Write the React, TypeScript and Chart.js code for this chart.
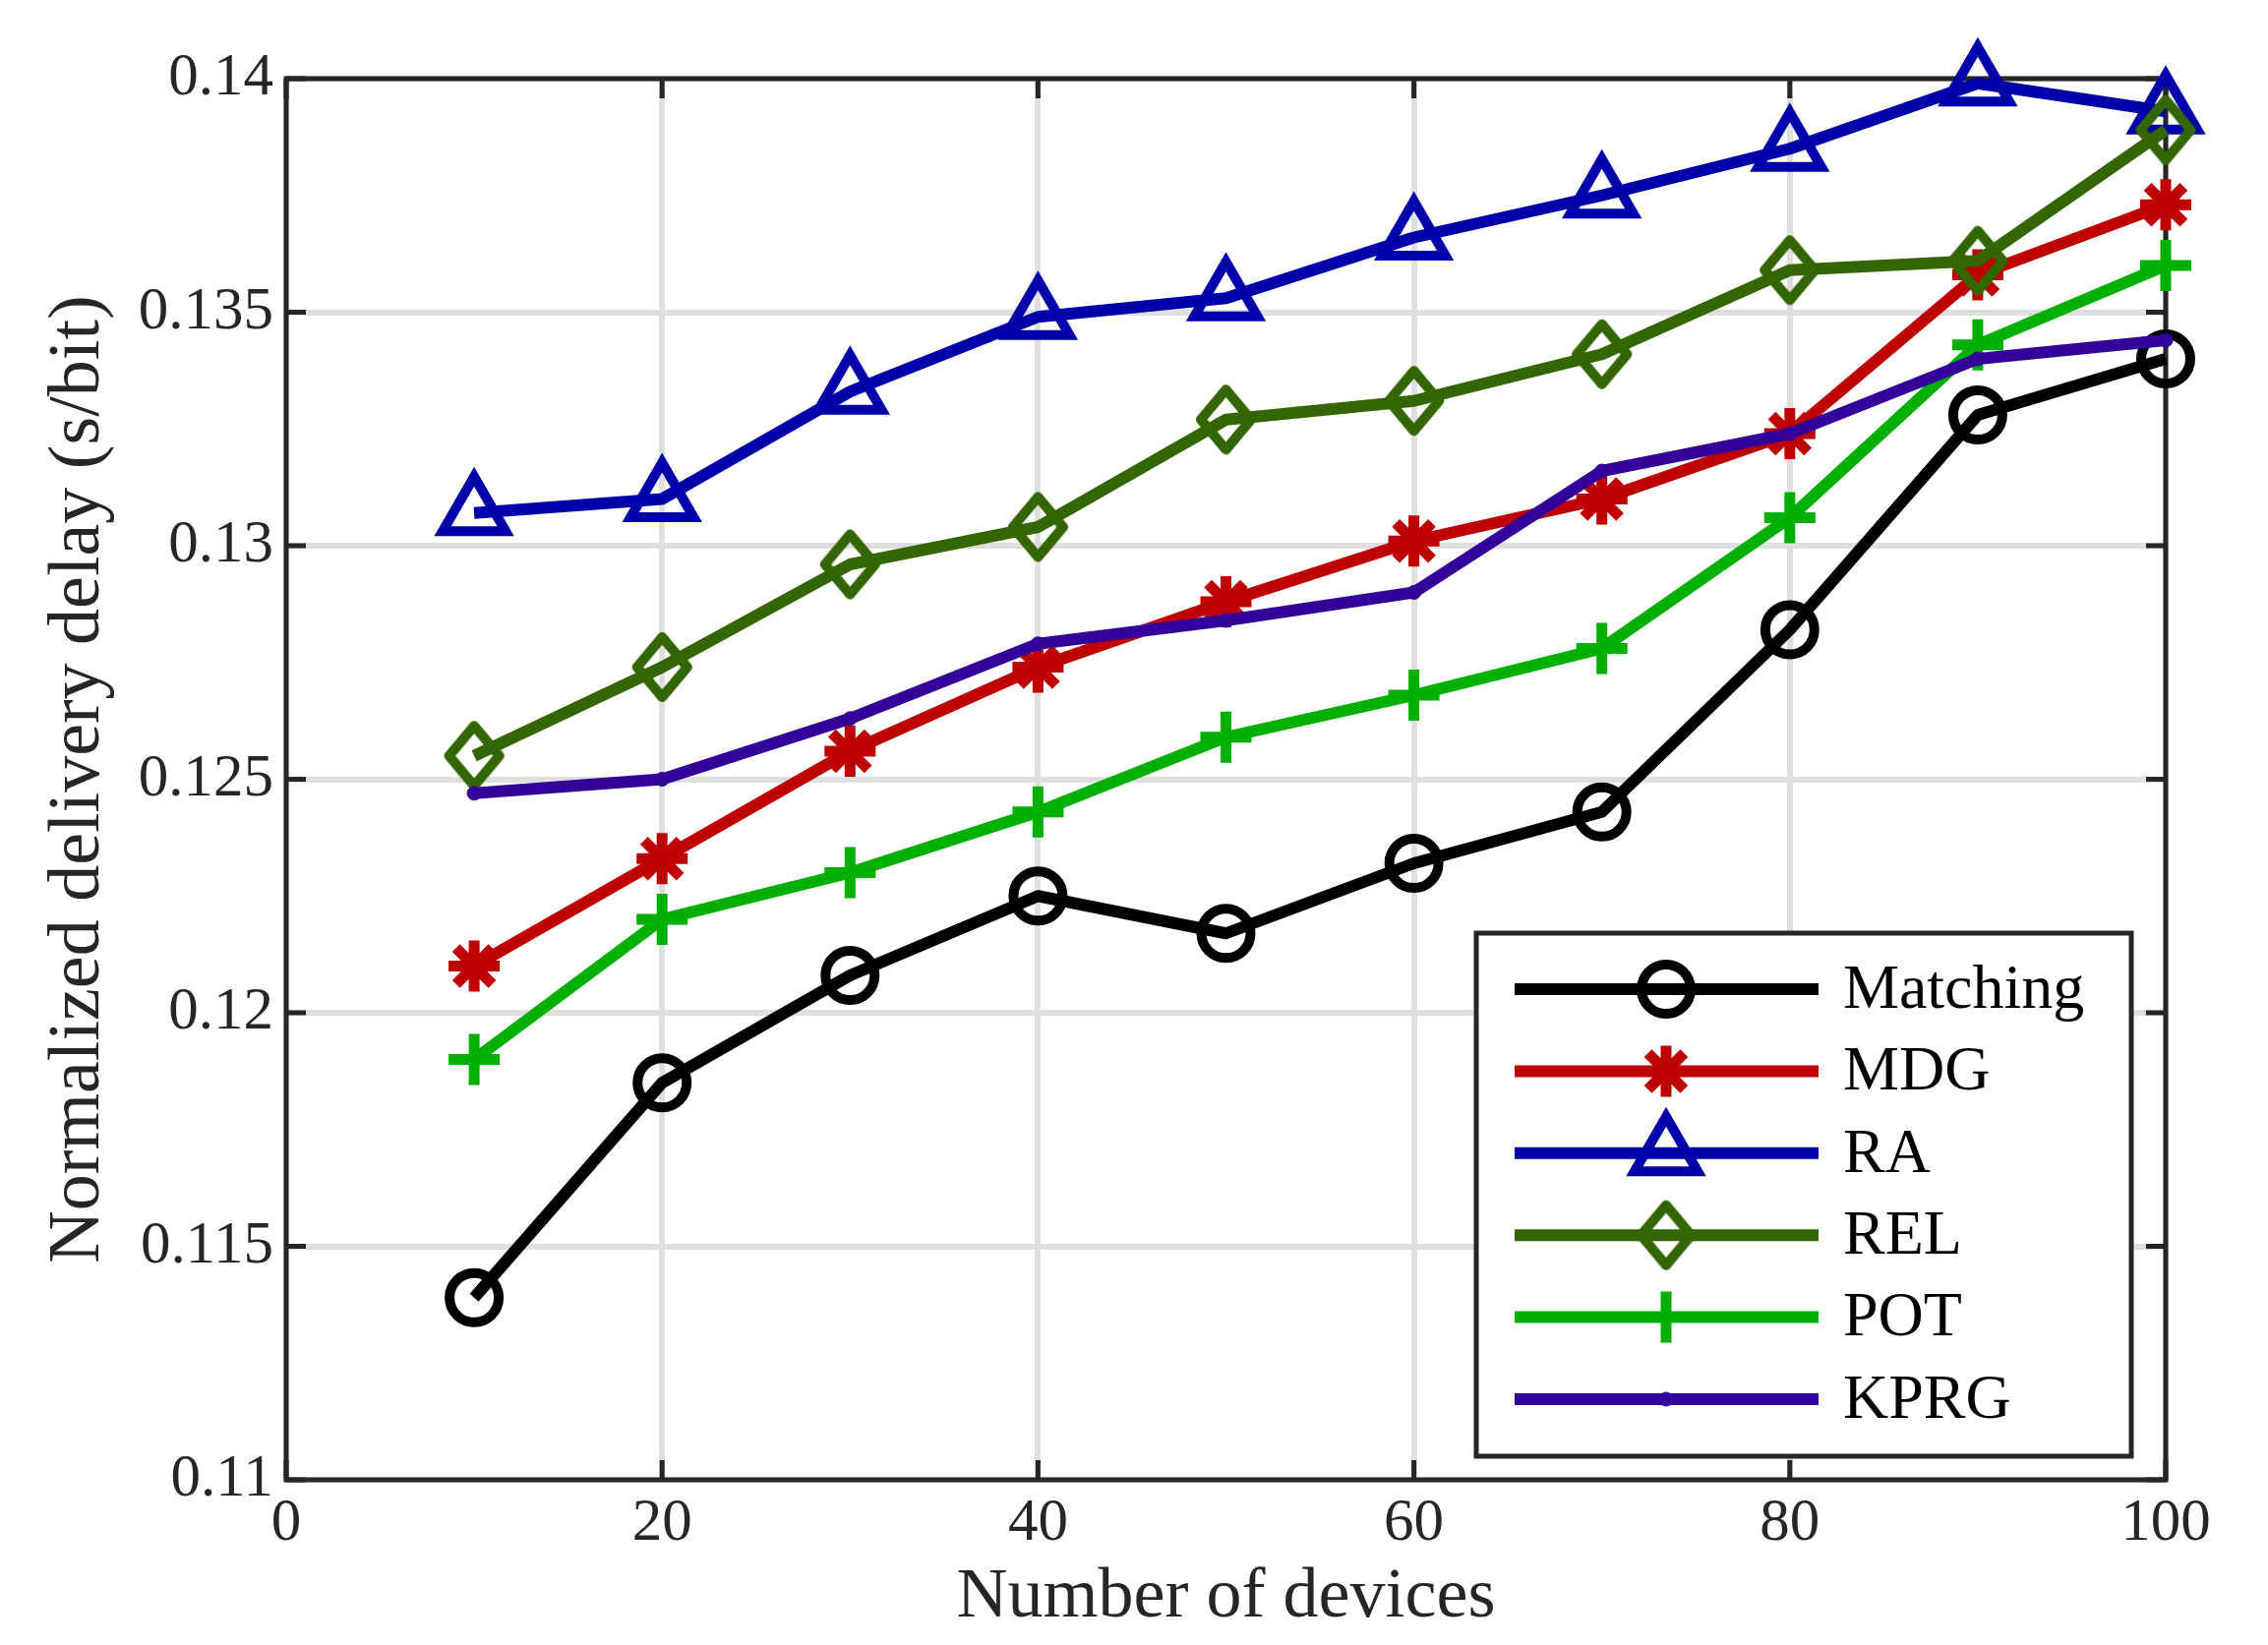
import { useEffect, useRef } from "react";
import { Chart, registerables } from "chart.js";
import type { Plugin, PointStyle } from "chart.js";
import { drawPoint } from "chart.js/helpers";

Chart.register(...registerables);

// number of devices on the x axis
const devices = [10, 20, 30, 40, 50, 60, 70, 80, 90, 100];

// normalized delivery delay (s/bit)
const matching = [0.1139, 0.1185, 0.1208, 0.1225, 0.1217, 0.1232, 0.1243, 0.1282, 0.1328, 0.134];
const mdg = [0.121, 0.1233, 0.1256, 0.1274, 0.1288, 0.1301, 0.131, 0.1324, 0.1358, 0.1373];
const ra = [0.1307, 0.131, 0.1333, 0.1349, 0.1353, 0.1366, 0.1375, 0.1385, 0.1399, 0.1393];
const rel = [0.1255, 0.1274, 0.1296, 0.1304, 0.1327, 0.1331, 0.1341, 0.1359, 0.1361, 0.1389];
const pot = [0.119, 0.122, 0.123, 0.1243, 0.1259, 0.1268, 0.1278, 0.1306, 0.1343, 0.136];
const kprg = [0.1247, 0.125, 0.1263, 0.1279, 0.1284, 0.129, 0.1316, 0.1324, 0.134, 0.1344];

const xTicks = [0, 20, 40, 60, 80, 100];
const yTicks = [0.11, 0.115, 0.12, 0.125, 0.13, 0.135, 0.14];

const FONT = '"Liberation Serif", serif';
const AXIS_COLOR = "#262626";
const GRID_COLOR = "#dfdfdf";
const LINE_WIDTH = 12;
const TICK_LEN = 20;

type Series = {
  label: string;
  data: number[];
  color: string;
  pointStyle: "circle" | "star" | "triangle" | "diamond" | "cross";
  radius: number;
  markerWidth: number;
  filled?: boolean;
};

const series: Series[] = [
  { label: "Matching", data: matching, color: "#000000", pointStyle: "circle", radius: 25, markerWidth: 10 },
  { label: "MDG", data: mdg, color: "#bf0000", pointStyle: "star", radius: 26, markerWidth: 11 },
  { label: "RA", data: ra, color: "#0000aa", pointStyle: "triangle", radius: 37, markerWidth: 10 },
  { label: "REL", data: rel, color: "#336600", pointStyle: "diamond", radius: 30, markerWidth: 10 },
  { label: "POT", data: pot, color: "#00b000", pointStyle: "cross", radius: 26, markerWidth: 11 },
  { label: "KPRG", data: kprg, color: "#330099", pointStyle: "circle", radius: 7, markerWidth: 1, filled: true }
];

// MATLAB's diamond is taller than it is wide, so it is drawn once into a small canvas
function makeDiamond(color: string, lineWidth: number) {
  const halfW = 25.5;
  const halfH = 30.5;
  const c = document.createElement("canvas");
  c.width = Math.ceil(2 * halfW + lineWidth + 2);
  c.height = Math.ceil(2 * halfH + lineWidth + 2);
  const g = c.getContext("2d");
  if (g) {
    const cx = c.width / 2;
    const cy = c.height / 2;
    g.strokeStyle = color;
    g.lineWidth = lineWidth;
    g.lineJoin = "round";
    g.beginPath();
    g.moveTo(cx, cy - halfH);
    g.lineTo(cx + halfW, cy);
    g.lineTo(cx, cy + halfH);
    g.lineTo(cx - halfW, cy);
    g.closePath();
    g.stroke();
  }
  return c;
}

function styleFor(s: Series): PointStyle {
  return s.pointStyle === "diamond" ? makeDiamond(s.color, s.markerWidth) : s.pointStyle;
}

// box around the plot with inward ticks on all four sides
const axesBox: Plugin<"line"> = {
  id: "axesBox",
  beforeDatasetsDraw(chart) {
    const { ctx, chartArea: a, scales } = chart;
    ctx.save();
    ctx.strokeStyle = AXIS_COLOR;
    ctx.lineWidth = 5;
    ctx.beginPath();
    for (const t of scales.x.ticks) {
      const px = scales.x.getPixelForValue(t.value);
      ctx.moveTo(px, a.bottom);
      ctx.lineTo(px, a.bottom - TICK_LEN);
      ctx.moveTo(px, a.top);
      ctx.lineTo(px, a.top + TICK_LEN);
    }
    for (const t of scales.y.ticks) {
      const py = scales.y.getPixelForValue(t.value);
      ctx.moveTo(a.left, py);
      ctx.lineTo(a.left + TICK_LEN, py);
      ctx.moveTo(a.right, py);
      ctx.lineTo(a.right - TICK_LEN, py);
    }
    ctx.stroke();
    ctx.strokeRect(a.left, a.top, a.right - a.left, a.bottom - a.top);
    ctx.restore();
  }
};

// MATLAB-style legend: line sample with the marker in the middle
const boxLegend: Plugin<"line"> = {
  id: "boxLegend",
  afterDraw(chart) {
    const { ctx } = chart;
    const left = 1501;
    const top = 949;
    const right = 2167;
    const bottom = 1481;
    const rowTop = 1006;
    const rowGap = 83.4;
    ctx.save();
    ctx.fillStyle = "#ffffff";
    ctx.fillRect(left, top, right - left, bottom - top);
    ctx.strokeStyle = AXIS_COLOR;
    ctx.lineWidth = 5;
    ctx.strokeRect(left, top, right - left, bottom - top);

    chart.data.datasets.forEach((ds, i) => {
      const s = series[i];
      const y = rowTop + i * rowGap;
      ctx.strokeStyle = s.color;
      ctx.lineWidth = LINE_WIDTH;
      ctx.lineCap = "butt";
      ctx.beginPath();
      ctx.moveTo(1540, y);
      ctx.lineTo(1849, y);
      ctx.stroke();

      ctx.strokeStyle = s.color;
      ctx.fillStyle = s.filled ? s.color : "rgba(0,0,0,0)";
      ctx.lineWidth = s.markerWidth;
      const pointStyle = (ds as { pointStyle: PointStyle }).pointStyle;
      drawPoint(ctx, { pointStyle, radius: s.radius, rotation: 0, borderWidth: s.markerWidth }, 1694, y);

      ctx.fillStyle = "#000000";
      ctx.font = `64px ${FONT}`;
      ctx.textAlign = "left";
      ctx.textBaseline = "middle";
      ctx.fillText(s.label, 1874, y + 2);
    });
    ctx.restore();
  }
};

export default function App() {
  const canvasRef = useRef<HTMLCanvasElement | null>(null);

  useEffect(() => {
    const canvas = canvasRef.current;
    if (!canvas) return;

    const chart = new Chart(canvas, {
      type: "line",
      data: {
        datasets: series.map((s, i) => ({
          label: s.label,
          data: s.data.map((v, j) => ({ x: devices[j], y: v })),
          borderColor: s.color,
          backgroundColor: s.color,
          borderWidth: LINE_WIDTH,
          borderJoinStyle: "round" as const,
          tension: 0,
          fill: false,
          clip: false as const,
          order: series.length - i,
          pointStyle: styleFor(s),
          pointRadius: s.radius,
          pointHoverRadius: s.radius,
          pointBorderWidth: s.markerWidth,
          pointBorderColor: s.color,
          pointBackgroundColor: s.filled ? s.color : "rgba(0,0,0,0)"
        }))
      },
      options: {
        responsive: true,
        maintainAspectRatio: false,
        animation: false,
        events: [],
        layout: {
          padding: { top: 80, right: 104, bottom: 0, left: 0 }
        },
        plugins: {
          legend: { display: false },
          tooltip: { enabled: false }
        },
        scales: {
          x: {
            type: "linear",
            min: 0,
            max: 100,
            afterFit: (scale) => {
              scale.height = 168;
            },
            afterBuildTicks: (scale) => {
              scale.ticks = xTicks.map((value) => ({ value }));
            },
            grid: { color: GRID_COLOR, lineWidth: 6, drawTicks: false },
            border: { display: false },
            ticks: {
              color: AXIS_COLOR,
              padding: 8,
              maxRotation: 0,
              font: { family: FONT, size: 61 },
              callback: (v) => String(v)
            },
            title: {
              display: true,
              text: "Number of devices",
              color: AXIS_COLOR,
              font: { family: FONT, size: 72 },
              padding: { top: 0, bottom: 5 }
            }
          },
          y: {
            type: "linear",
            min: 0.11,
            max: 0.14,
            afterFit: (scale) => {
              scale.width = 291;
            },
            afterBuildTicks: (scale) => {
              scale.ticks = yTicks.map((value) => ({ value }));
            },
            grid: { color: GRID_COLOR, lineWidth: 6, drawTicks: false },
            border: { display: false },
            ticks: {
              color: AXIS_COLOR,
              padding: 13,
              font: { family: FONT, size: 61 },
              callback: (v) => String(Number(Number(v).toFixed(3)))
            },
            title: {
              display: true,
              text: "Normalized delivery delay (s/bit)",
              color: AXIS_COLOR,
              font: { family: FONT, size: 74 },
              padding: { top: 36, bottom: 0 }
            }
          }
        }
      },
      plugins: [axesBox, boxLegend]
    });

    return () => chart.destroy();
  }, []);

  return (
    <div style={{ position: "absolute", left: 0, top: 0, width: 2306, height: 1673, background: "#ffffff" }}>
      <canvas ref={canvasRef} />
    </div>
  );
}
